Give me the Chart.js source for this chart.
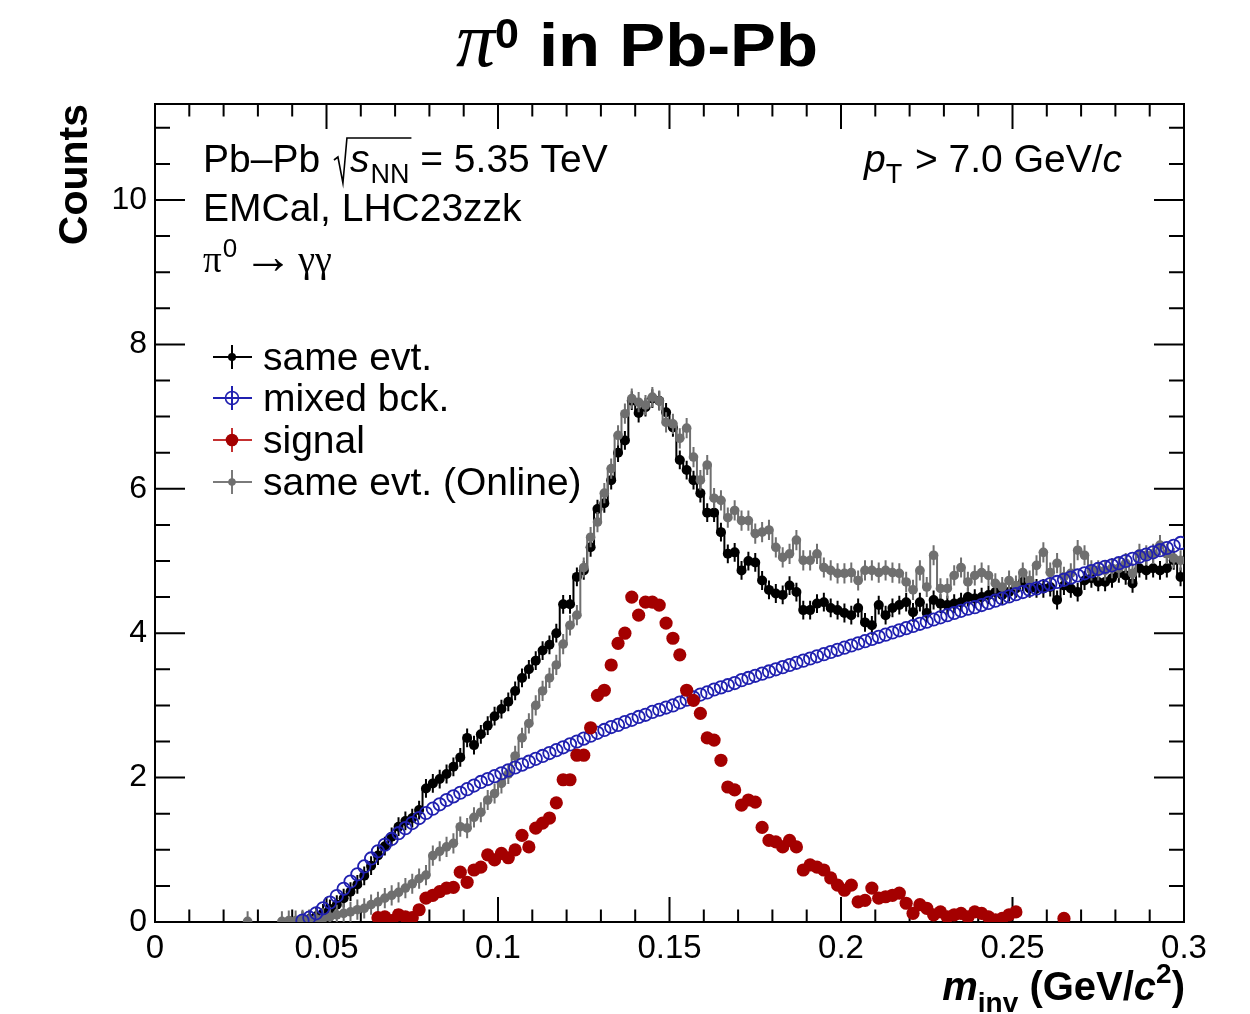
<!DOCTYPE html>
<html>
<head>
<meta charset="utf-8">
<script src="https://cdn.jsdelivr.net/npm/chart.js@4.4.1/dist/chart.umd.min.js"></script>
<style>
  body { margin: 0; background: #fff; }
  #wrap { position: relative; width: 1250px; height: 1014px; }
</style>
</head>
<body>
<div id="wrap"><canvas id="minv"></canvas></div>
<script>
// invariant mass histograms, 2 MeV/c^2 bins, values given from the first filled bin centre
const binWidth = 0.002;

const sameEvtStart = 0.043;
const sameEvt = [
  0.02, 0.04, 0.08, 0.12, 0.18, 0.24, 0.33, 0.42, 0.52, 0.64,
  0.78, 0.92, 1.05, 1.18, 1.32, 1.40, 1.44, 1.55, 1.85, 1.92,
  1.98, 2.05, 2.15, 2.28, 2.55, 2.45, 2.60, 2.72, 2.85, 2.95,
  3.05, 3.20, 3.38, 3.50, 3.62, 3.76, 3.84, 4.00, 4.40, 4.40,
  4.78, 4.87, 5.19, 5.72, 5.80, 6.12, 6.50, 6.67, 7.22, 7.05,
  7.13, 7.25, 7.22, 7.06, 6.85, 6.40, 6.26, 6.12, 5.94, 5.67,
  5.67, 5.40, 5.10, 5.12, 4.87, 5.00, 4.98, 4.73, 4.60, 4.55,
  4.53, 4.66, 4.57, 4.32, 4.32, 4.41, 4.43, 4.35, 4.32, 4.28,
  4.25, 4.35, 4.15, 4.11, 4.39, 4.25, 4.35, 4.39, 4.43, 4.29,
  4.43, 4.28, 4.46, 4.41, 4.39, 4.41, 4.43, 4.50, 4.48, 4.50,
  4.53, 4.57, 4.53, 4.57, 4.62, 4.71, 4.62, 4.62, 4.62, 4.64,
  4.46, 4.66, 4.62, 4.57, 4.73, 4.76, 4.71, 4.71, 4.76, 4.83,
  4.80, 4.69, 4.90, 4.87, 4.90, 4.87, 4.90, 5.01, 4.78
];

const mixedStart = 0.043;
const mixedBck = [
  0.02, 0.06, 0.12, 0.19, 0.27, 0.36, 0.46, 0.56, 0.66, 0.77,
  0.88, 0.98, 1.07, 1.15, 1.23, 1.30, 1.37, 1.44, 1.51, 1.57,
  1.63, 1.69, 1.74, 1.79, 1.84, 1.89, 1.94, 1.98, 2.02, 2.06,
  2.10, 2.14, 2.18, 2.22, 2.26, 2.30, 2.34, 2.38, 2.42, 2.46,
  2.50, 2.54, 2.58, 2.62, 2.66, 2.70, 2.73, 2.77, 2.80, 2.84,
  2.87, 2.91, 2.94, 2.97, 3.00, 3.04, 3.08, 3.11, 3.15, 3.18,
  3.22, 3.25, 3.28, 3.31, 3.35, 3.38, 3.41, 3.44, 3.47, 3.50,
  3.53, 3.56, 3.59, 3.62, 3.65, 3.68, 3.71, 3.74, 3.77, 3.80,
  3.83, 3.86, 3.89, 3.92, 3.95, 3.98, 4.01, 4.04, 4.07, 4.10,
  4.13, 4.16, 4.19, 4.22, 4.25, 4.28, 4.31, 4.34, 4.36, 4.39,
  4.42, 4.45, 4.48, 4.51, 4.54, 4.57, 4.60, 4.62, 4.65, 4.68,
  4.71, 4.74, 4.77, 4.80, 4.83, 4.86, 4.89, 4.92, 4.94, 4.97,
  5.00, 5.03, 5.06, 5.09, 5.12, 5.15, 5.18, 5.21, 5.25
];

const signalStart = 0.065;
const signal = [
  0.06, 0.07, 0.02, 0.10, 0.07, 0.06, 0.17, 0.33, 0.37, 0.42,
  0.47, 0.48, 0.69, 0.55, 0.72, 0.76, 0.93, 0.86, 0.95, 0.89,
  1.00, 1.20, 1.04, 1.30, 1.37, 1.44, 1.65, 1.97, 1.97, 2.31,
  2.31, 2.69, 3.14, 3.21, 3.56, 3.86, 4.00, 4.50, 4.25, 4.43,
  4.43, 4.39, 4.14, 3.93, 3.70, 3.21, 3.07, 2.89, 2.55, 2.52,
  2.24, 1.87, 1.83, 1.62, 1.69, 1.66, 1.31, 1.13, 1.11, 1.04,
  1.13, 1.04, 0.72, 0.79, 0.76, 0.72, 0.61, 0.51, 0.44, 0.51,
  0.28, 0.30, 0.47, 0.33, 0.35, 0.37, 0.40, 0.26, 0.12, 0.24,
  0.19, 0.10, 0.14, 0.07, 0.10, 0.12, 0.07, 0.14, 0.12, 0.07,
  0.03, 0.05, 0.10, 0.14, null, null, null, null, null, null,
  0.05
];

const onlineStart = 0.027;
const sameEvtOnline = [
  0.01, null, null, null, null, 0.01, 0.02, 0.02, 0.03, 0.03,
  0.04, 0.05, 0.07, 0.10, 0.12, 0.14, 0.17, 0.19, 0.24, 0.28,
  0.33, 0.37, 0.41, 0.47, 0.53, 0.60, 0.65, 0.92, 0.98, 1.04,
  1.09, 1.32, 1.30, 1.45, 1.52, 1.69, 1.78, 1.92, 2.05, 2.30,
  2.55, 2.75, 3.00, 3.20, 3.38, 3.56, 3.85, 4.11, 4.25, 4.91,
  5.33, 5.54, 5.94, 6.28, 6.74, 7.04, 7.25, 7.20, 7.16, 7.27,
  7.22, 6.92, 6.90, 6.70, 6.84, 6.44, 6.12, 6.33, 5.87, 5.84,
  5.60, 5.70, 5.56, 5.56, 5.38, 5.40, 5.43, 5.19, 5.05, 5.10,
  5.29, 5.01, 5.01, 5.10, 4.91, 4.87, 4.83, 4.83, 4.84, 4.73,
  4.87, 4.87, 4.84, 4.87, 4.84, 4.83, 4.71, 4.60, 4.87, 4.64,
  5.08, 4.62, 4.62, 4.80, 4.91, 4.71, 4.80, 4.84, 4.80, 4.69,
  4.64, 4.73, 4.66, 4.84, 4.73, 4.94, 5.12, 4.84, 4.97, 4.78,
  4.83, 5.15, 5.08, 4.87, 4.87, 4.87, 4.90, 4.90, 4.97, 4.83,
  5.10, 5.08, 5.10, 5.22, 5.10, 5.04, 5.01
];

// axis range and labelled ticks
const xMin = 0, xMax = 0.3;
const yMin = 0, yMax = 11.33;
const xTickValues = [0, 0.05, 0.1, 0.15, 0.2, 0.25, 0.3];
const xTickLabels = ['0', '0.05', '0.1', '0.15', '0.2', '0.25', '0.3'];
const yTickValues = [0, 2, 4, 6, 8, 10];
const yTickLabels = ['0', '2', '4', '6', '8', '10'];

const SANS = '"Liberation Sans", Arial, sans-serif';
const SERIF = '"Liberation Serif", "Times New Roman", serif';

function toPoints(start, values) {
  return values.map((v, i) => ({ x: +(start + i * binWidth).toFixed(4), y: v }));
}

// vertical stat. error bars under each marker
const errorBars = {
  id: 'errorBars',
  beforeDatasetDraw(chart, args) {
    const ds = chart.data.datasets[args.index];
    if (!ds.errY) return;
    const { ctx, scales: { x, y } } = chart;
    ctx.save();
    ctx.strokeStyle = ds.borderColor;
    ctx.lineWidth = 2;
    ctx.beginPath();
    ds.data.forEach(p => {
      if (p.y == null) return;
      const px = x.getPixelForValue(p.x);
      ctx.moveTo(px, y.getPixelForValue(Math.max(0, p.y - ds.errY)));
      ctx.lineTo(px, y.getPixelForValue(p.y + ds.errY));
    });
    ctx.stroke();
    ctx.restore();
  }
};

// ROOT style frame with inward ticks on all four sides
const frame = {
  id: 'frame',
  beforeDatasetsDraw(chart) {
    const { ctx, chartArea: a, scales: { x, y } } = chart;
    ctx.save();
    ctx.strokeStyle = '#000';
    ctx.lineWidth = 2;
    ctx.strokeRect(a.left, a.top, a.right - a.left, a.bottom - a.top);
    ctx.beginPath();
    for (let i = 0; i <= 30; i++) {
      const px = x.getPixelForValue(i * 0.01);
      const len = i % 5 === 0 ? 25 : 12.5;
      ctx.moveTo(px, a.bottom); ctx.lineTo(px, a.bottom - len);
      ctx.moveTo(px, a.top); ctx.lineTo(px, a.top + len);
    }
    for (let i = 0; i * 0.5 <= yMax; i++) {
      const py = y.getPixelForValue(i * 0.5);
      const len = i % 4 === 0 ? 30 : 15;
      ctx.moveTo(a.left, py); ctx.lineTo(a.left + len, py);
      ctx.moveTo(a.right, py); ctx.lineTo(a.right - len, py);
    }
    ctx.stroke();
    ctx.restore();
  }
};

// draws a row of text pieces with their own fonts, offsets and horizontal stretch
function drawRuns(ctx, x, y, runs, align) {
  let w = 0;
  runs.forEach(r => {
    ctx.font = r.font;
    r.w = ctx.measureText(r.text).width * (r.sx || 1) + (r.gap || 0);
    w += r.w;
  });
  let cx = align === 'right' ? x - w : align === 'center' ? x - w / 2 : x;
  runs.forEach(r => {
    ctx.save();
    ctx.font = r.font;
    ctx.translate(cx, y + (r.dy || 0));
    ctx.scale(r.sx || 1, 1);
    ctx.fillText(r.text, 0, 0);
    ctx.restore();
    cx += r.w;
  });
  return cx;
}

function marker(ctx, x, y, r, color, open, lw) {
  ctx.beginPath();
  ctx.arc(x, y, r, 0, Math.PI * 2);
  if (open) { ctx.strokeStyle = color; ctx.lineWidth = lw; ctx.stroke(); }
  else { ctx.fillStyle = color; ctx.fill(); }
}

// titles, labels and legend
const texts = {
  id: 'texts',
  afterDraw(chart) {
    const { ctx, chartArea: a } = chart;
    ctx.save();
    ctx.fillStyle = '#000';
    ctx.textBaseline = 'alphabetic';
    ctx.textAlign = 'left';

    // page title
    drawRuns(ctx, 637, 66, [
      { text: '\u03c0', font: `italic 78px ${SERIF}`, gap: 0 },
      { text: '0', font: `bold 43px ${SANS}`, dy: -18, gap: 20 },
      { text: 'in Pb-Pb', font: `bold 62px ${SANS}`, sx: 1.11 }
    ], 'center');

    // collision system with sqrt(s_NN)
    const F = 39;
    let cx = drawRuns(ctx, 203, 172, [{ text: 'Pb\u2013Pb ', font: `${F}px ${SANS}` }], 'left');
    ctx.font = `italic ${F}px ${SANS}`;
    const sW = ctx.measureText('s').width;
    ctx.font = `27px ${SANS}`;
    const nnW = ctx.measureText('NN').width;
    const r0 = cx + 3, top = 138;
    ctx.strokeStyle = '#000';
    ctx.lineWidth = 1.6;
    ctx.beginPath();
    ctx.moveTo(r0, 160); ctx.lineTo(r0 + 4, 157);
    ctx.lineTo(r0 + 9, 183); ctx.lineTo(r0 + 13, top);
    ctx.lineTo(r0 + 17 + sW + nnW + 2, top);
    ctx.stroke();
    drawRuns(ctx, r0 + 16, 172, [
      { text: 's', font: `italic ${F}px ${SANS}`, gap: 1 },
      { text: 'NN', font: `27px ${SANS}`, dy: 11 },
      { text: ' = 5.35 TeV', font: `${F}px ${SANS}` }
    ], 'left');

    drawRuns(ctx, 203, 221, [{ text: 'EMCal, LHC23zzk', font: `${F}px ${SANS}` }], 'left');

    drawRuns(ctx, 203, 272, [
      { text: '\u03c0', font: `37px ${SERIF}`, gap: 1 },
      { text: '0', font: `26px ${SANS}`, dy: -15, gap: 6 },
      { text: '\u2192', font: `50px ${SERIF}`, dy: 1, gap: 5 },
      { text: '\u03b3\u03b3', font: `38px ${SERIF}` }
    ], 'left');

    drawRuns(ctx, 1122, 172, [
      { text: 'p', font: `italic ${F}px ${SANS}` },
      { text: 'T', font: `27px ${SANS}`, dy: 11, gap: 2 },
      { text: ' > 7.0 GeV/', font: `${F}px ${SANS}` },
      { text: 'c', font: `italic ${F}px ${SANS}` }
    ], 'right');

    // axis titles
    drawRuns(ctx, 1185, 1000, [
      { text: 'm', font: `bold italic 40px ${SANS}` },
      { text: 'inv', font: `bold 28px ${SANS}`, dy: 12 },
      { text: ' (GeV/', font: `bold 40px ${SANS}` },
      { text: 'c', font: `bold italic 40px ${SANS}` },
      { text: '2', font: `bold 28px ${SANS}`, dy: -17 },
      { text: ')', font: `bold 40px ${SANS}` }
    ], 'right');

    ctx.save();
    ctx.translate(87, a.top);
    ctx.rotate(-Math.PI / 2);
    ctx.textAlign = 'right';
    ctx.font = `bold 41px ${SANS}`;
    ctx.fillText('Counts', 0, 0);
    ctx.restore();

    // legend
    const rows = [357, 398, 440, 482];
    chart.data.datasets.forEach(ds => {
      const cy = rows[ds.legendRow];
      ctx.strokeStyle = ds.legendLine;
      ctx.lineWidth = 2;
      ctx.beginPath();
      ctx.moveTo(213, cy); ctx.lineTo(252, cy);
      ctx.moveTo(232, cy - 12); ctx.lineTo(232, cy + 12);
      ctx.stroke();
      marker(ctx, 232, cy, ds.legendRadius, ds.pointBorderColor, ds.legendOpen, 1.6);
      ctx.fillStyle = '#000';
      ctx.font = `${F}px ${SANS}`;
      ctx.textAlign = 'left';
      ctx.fillText(ds.label, 263, cy + 13);
    });
    ctx.restore();
  }
};

const ctx = document.getElementById('minv').getContext('2d');
const chart = new Chart(ctx, {
  type: 'line',
  data: {
    datasets: [
      {
        label: 'signal',
        data: toPoints(signalStart, signal),
        showLine: false,
        borderColor: '#a40000',
        pointBackgroundColor: '#a40000',
        pointBorderColor: '#a40000',
        pointBorderWidth: 0,
        pointRadius: 6.6,
        legendRow: 2, legendRadius: 6.3, legendLine: '#c43030',
        order: 0
      },
      {
        label: 'mixed bck.',
        data: toPoints(mixedStart, mixedBck),
        showLine: false,
        borderColor: '#2020b0',
        pointBackgroundColor: 'rgba(0,0,0,0)',
        pointBorderColor: '#2020b0',
        pointBorderWidth: 1.8,
        pointRadius: 6.2,
        legendRow: 1, legendRadius: 6.5, legendLine: '#2020b0', legendOpen: true,
        order: 1
      },
      {
        label: 'same evt. (Online)',
        data: toPoints(onlineStart, sameEvtOnline),
        stepped: 'middle',
        borderColor: '#6f6f6f',
        borderWidth: 2,
        pointBackgroundColor: '#6f6f6f',
        pointBorderColor: '#6f6f6f',
        pointBorderWidth: 0,
        pointRadius: 4.8,
        errY: 0.14,
        legendRow: 3, legendRadius: 3.8, legendLine: '#7a7a7a',
        order: 2
      },
      {
        label: 'same evt.',
        data: toPoints(sameEvtStart, sameEvt),
        stepped: 'middle',
        borderColor: '#000',
        borderWidth: 2,
        pointBackgroundColor: '#000',
        pointBorderColor: '#000',
        pointBorderWidth: 0,
        pointRadius: 5,
        errY: 0.13,
        legendRow: 0, legendRadius: 4, legendLine: '#000',
        order: 3
      }
    ]
  },
  options: {
    responsive: true,
    maintainAspectRatio: false,
    animation: false,
    spanGaps: false,
    layout: { padding: { top: 104, right: 66, bottom: 0, left: 0 } },
    plugins: {
      legend: { display: false },
      tooltip: { enabled: false }
    },
    scales: {
      x: {
        type: 'linear',
        min: xMin,
        max: xMax,
        grid: { display: false, drawTicks: false },
        border: { display: false },
        afterBuildTicks: s => { s.ticks = xTickValues.map(v => ({ value: v })); },
        afterFit: s => { s.height = 92; },
        ticks: {
          color: '#000',
          padding: 7,
          maxRotation: 0,
          font: { family: SANS, size: 33 },
          callback: (v, i) => xTickLabels[i]
        }
      },
      y: {
        type: 'linear',
        min: yMin,
        max: yMax,
        grid: { display: false, drawTicks: false },
        border: { display: false },
        afterBuildTicks: s => { s.ticks = yTickValues.map(v => ({ value: v })); },
        afterFit: s => { s.width = 155; },
        ticks: {
          color: '#000',
          padding: 8,
          font: { family: SANS, size: 32 },
          callback: (v, i) => yTickLabels[i]
        }
      }
    }
  },
  plugins: [frame, errorBars, texts]
});
</script>
</body>
</html>
